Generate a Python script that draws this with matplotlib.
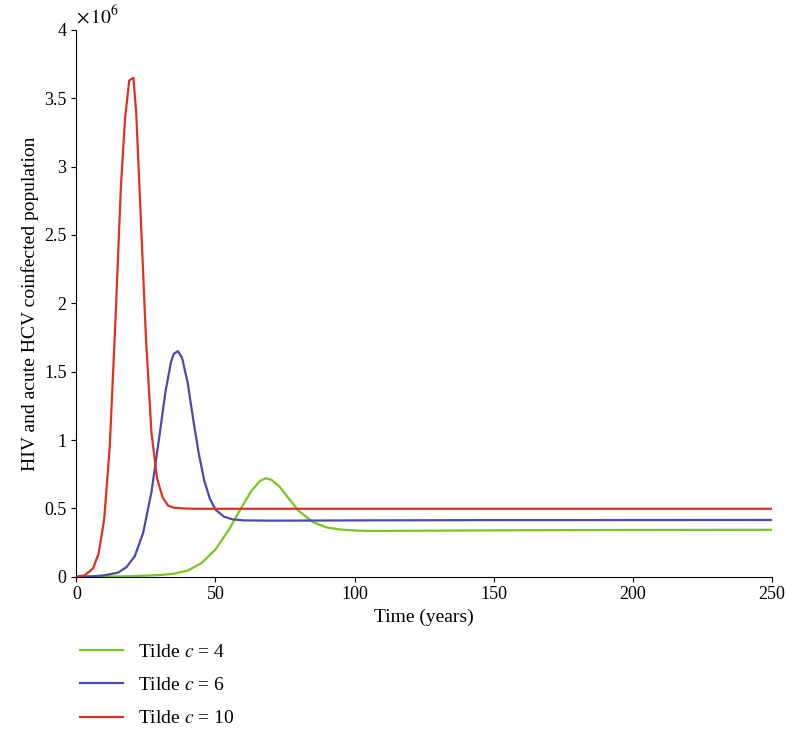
import matplotlib.pyplot as plt

plt.rcParams['font.family'] = ['Liberation Serif', 'DejaVu Serif']
plt.rcParams['mathtext.fontset'] = 'stix'

t_c4 = [0, 10, 20, 30, 35, 40, 45, 50, 55, 60, 63, 66, 68, 70, 73, 76, 80, 85, 90, 95, 100, 105, 110, 130, 160, 200, 250]
y_c4 = [0, 0.001, 0.004, 0.012, 0.022, 0.045, 0.10, 0.20, 0.35, 0.53, 0.63, 0.70, 0.72, 0.71, 0.66, 0.58, 0.48, 0.40, 0.36, 0.345, 0.338, 0.335, 0.335, 0.337, 0.34, 0.342, 0.343]

t_c6 = [0, 5, 10, 15, 18, 21, 24, 27, 30, 32, 34, 35, 36.5, 38, 40, 42, 44, 46, 48, 50, 53, 56, 60, 70, 100, 150, 250]
y_c6 = [0, 0.002, 0.01, 0.03, 0.07, 0.15, 0.32, 0.62, 1.05, 1.35, 1.57, 1.63, 1.65, 1.60, 1.42, 1.15, 0.90, 0.70, 0.57, 0.49, 0.44, 0.42, 0.412, 0.41, 0.412, 0.414, 0.415]

t_c10 = [0, 3, 6, 8, 10, 12, 14, 16, 17.5, 19, 20.5, 21.5, 23, 25, 27, 29, 31, 33, 35, 38, 42, 50, 100, 250]
y_c10 = [0, 0.01, 0.06, 0.17, 0.42, 0.95, 1.85, 2.85, 3.35, 3.63, 3.65, 3.40, 2.70, 1.75, 1.05, 0.72, 0.58, 0.52, 0.505, 0.50, 0.497, 0.497, 0.497, 0.497]

fig = plt.figure(figsize=(7.87, 7.48), dpi=100)
ax = fig.add_axes([0.097, 0.229, 0.884, 0.731])
ax.plot(t_c4, y_c4, color='#7cc51f', lw=1.6, label='Tilde $c$ = 4')
ax.plot(t_c6, y_c6, color='#4a4aad', lw=1.6, label='Tilde $c$ = 6')
ax.plot(t_c10, y_c10, color='#e03020', lw=1.6, label='Tilde $c$ = 10')

ax.set_xlim(0, 250)
ax.set_ylim(0, 4)
ax.set_xticks([0, 50, 100, 150, 200, 250])
ax.set_yticks([0, 0.5, 1, 1.5, 2, 2.5, 3, 3.5, 4])
ax.set_yticklabels(['0', '0.5', '1', '1.5', '2', '2.5', '3', '3.5', '4'])
ax.tick_params(labelsize=13)
ax.spines['top'].set_visible(False)
ax.spines['right'].set_visible(False)
ax.set_xlabel('Time (years)', fontsize=14)
ax.set_ylabel('HIV and acute HCV coinfected population', fontsize=14)
ax.text(0.0, 1.005, r'$\times\,10^6$', transform=ax.transAxes, fontsize=14, va='bottom')

ax.legend(loc='upper left', bbox_to_anchor=(-0.02, -0.09), frameon=False,
          fontsize=14, handlelength=2.2, labelspacing=0.8)

fig.savefig('out.png')
